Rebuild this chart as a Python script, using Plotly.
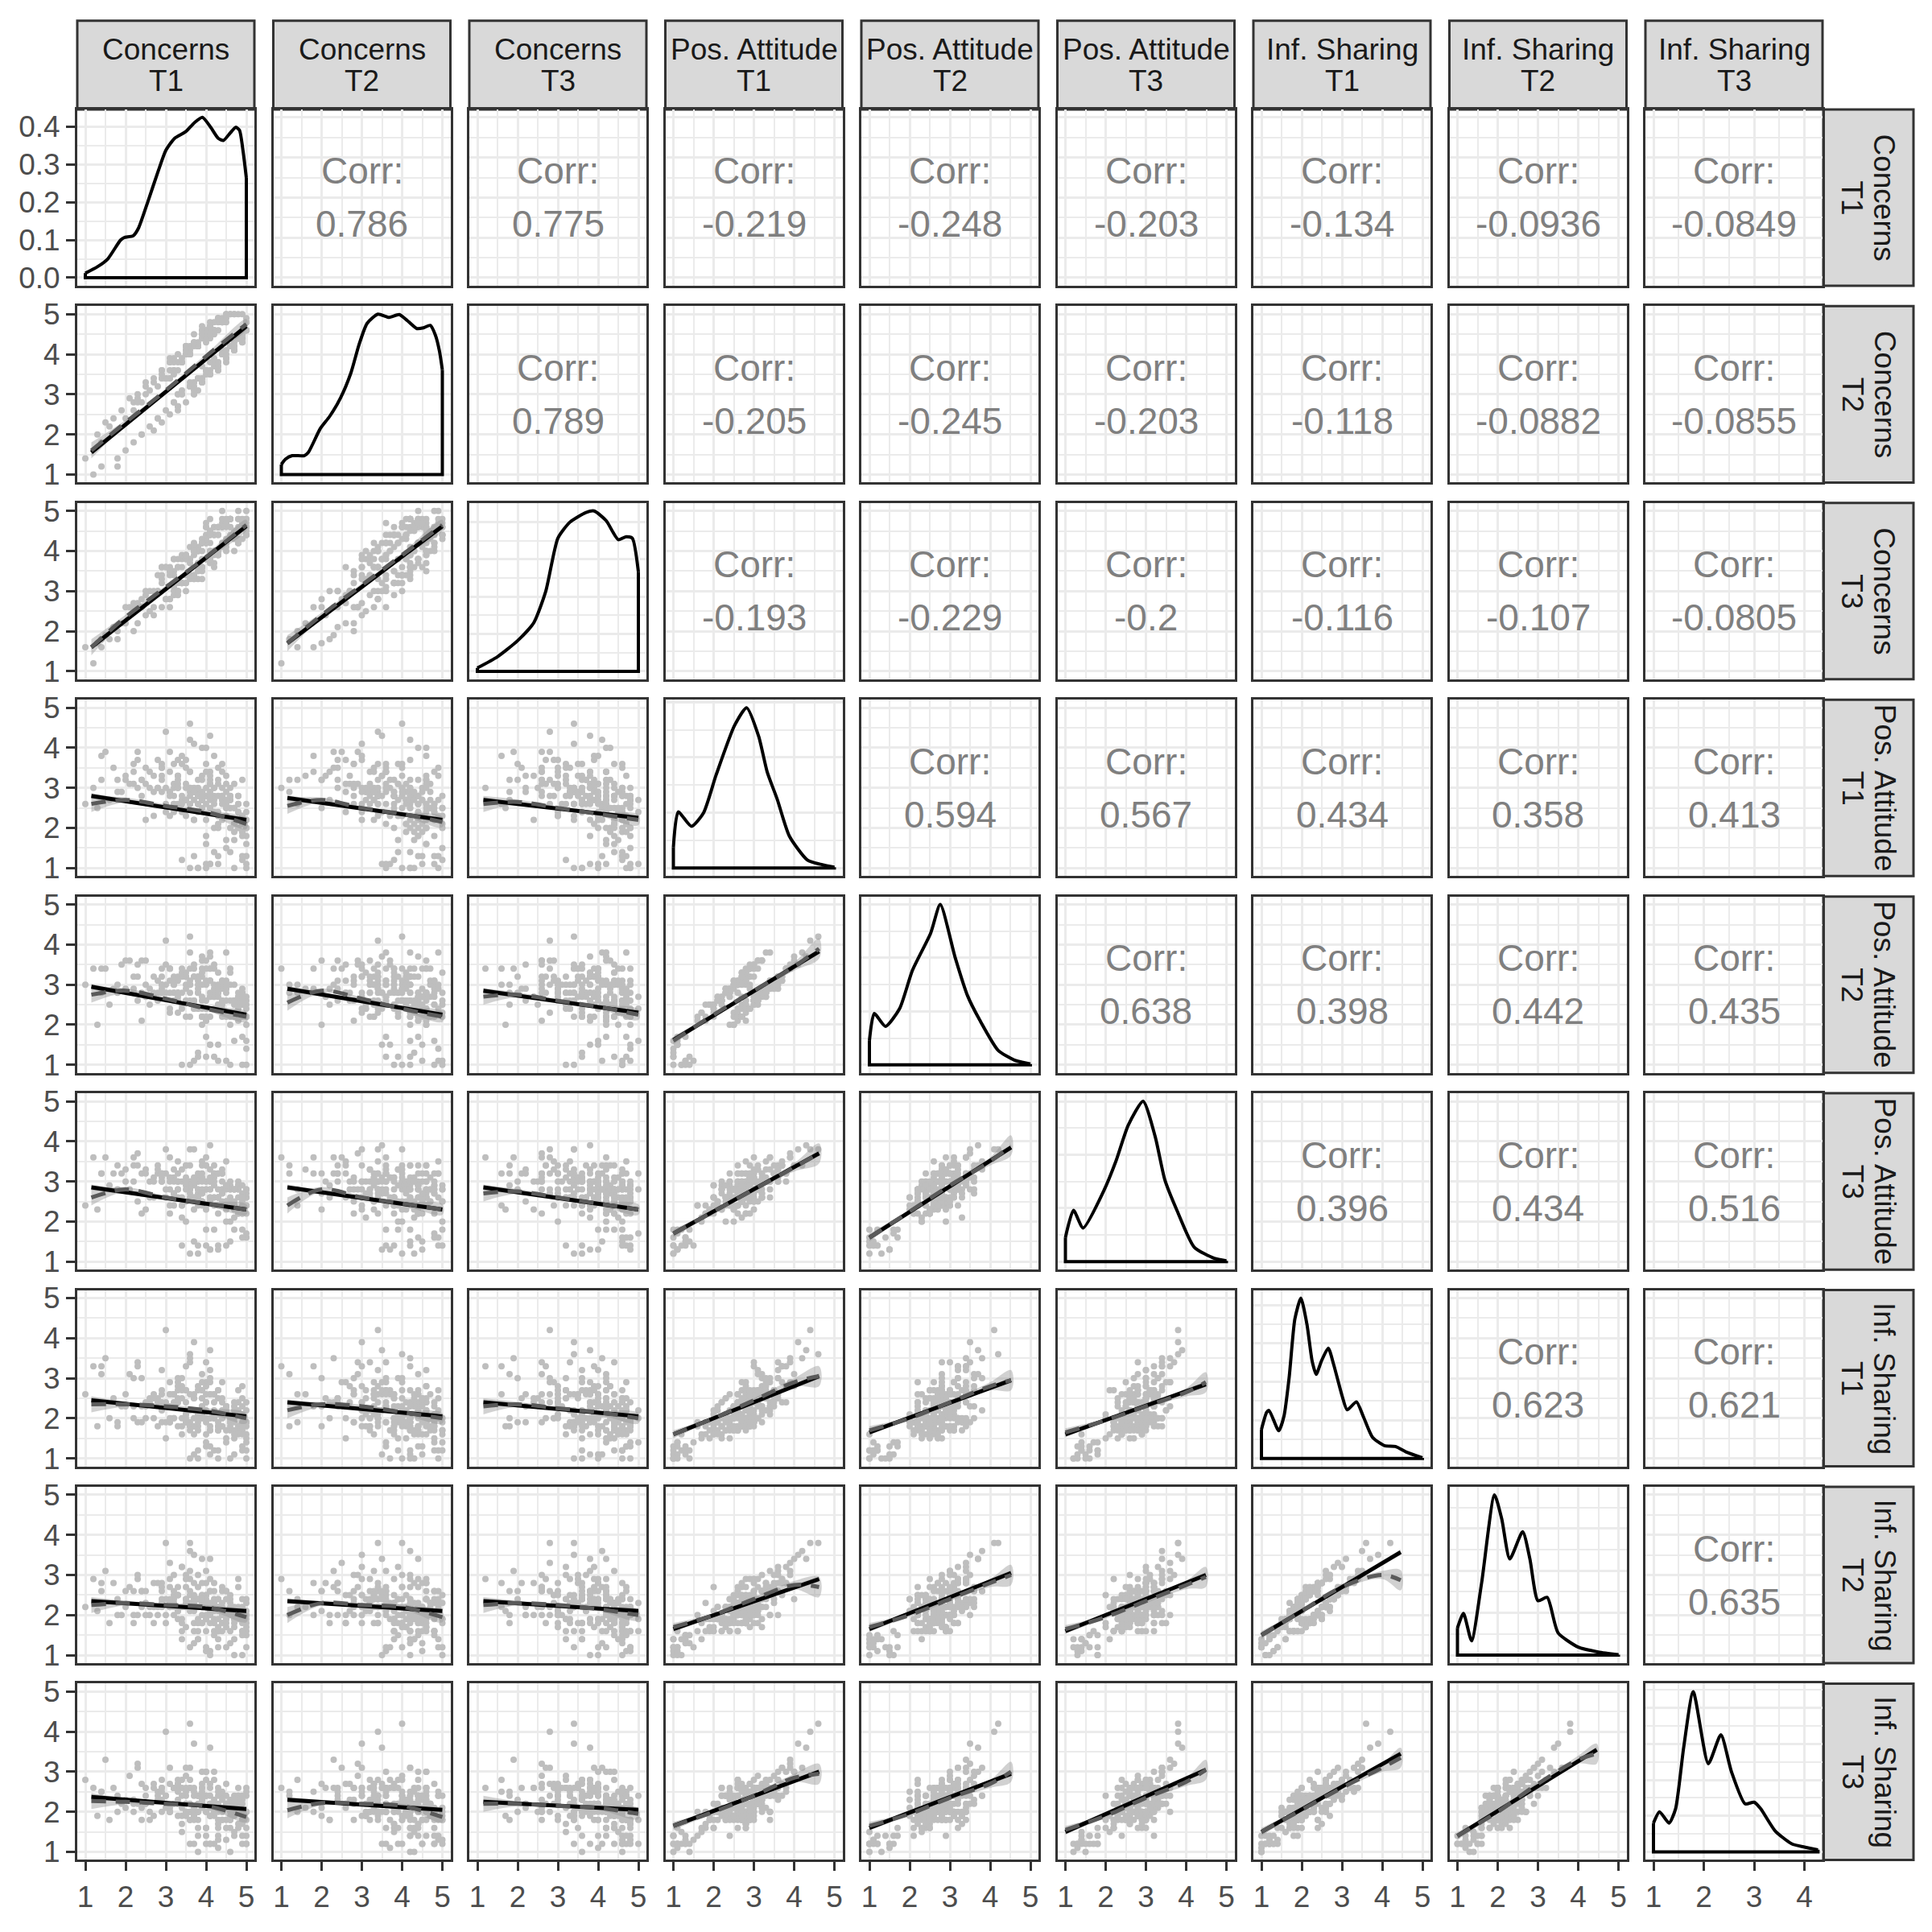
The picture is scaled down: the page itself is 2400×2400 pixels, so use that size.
import plotly.graph_objects as go

W, H = 2400, 2400
FONT = "Liberation Sans, Arial, sans-serif"

# ---------------- labels ----------------
strip_line1 = ["Concerns", "Concerns", "Concerns", "Pos. Attitude", "Pos. Attitude",
               "Pos. Attitude", "Inf. Sharing", "Inf. Sharing", "Inf. Sharing"]
strip_line2 = ["T1", "T2", "T3", "T1", "T2", "T3", "T1", "T2", "T3"]

# corr_rows[r][k] belongs to panel (row r, column r+1+k)
corr_rows = [
    ["0.786", "0.775", "-0.219", "-0.248", "-0.203", "-0.134", "-0.0936", "-0.0849"],
    ["0.789", "-0.205", "-0.245", "-0.203", "-0.118", "-0.0882", "-0.0855"],
    ["-0.193", "-0.229", "-0.2", "-0.116", "-0.107", "-0.0805"],
    ["0.594", "0.567", "0.434", "0.358", "0.413"],
    ["0.638", "0.398", "0.442", "0.435"],
    ["0.396", "0.434", "0.516"],
    ["0.623", "0.621"],
    ["0.635"],
]

# ---------------- respondent sample (estimated from the clouds) ----------------
c1 = [4.2, 3.7, 4.8, 3.1, 5.0, 2.4, 3.8, 4.3, 3.4, 4.0,
      4.6, 3.2, 1.4, 4.1, 3.8, 4.9, 2.8, 3.5, 4.0, 5.0,
      3.3, 4.4, 4.0, 2.2, 3.9, 4.6, 3.0, 4.2, 1.8, 3.6,
      4.8, 3.7, 3.2, 4.0, 2.6, 4.5, 5.0, 3.4, 4.2, 3.6,
      3.0, 4.6, 4.1, 3.8, 1.2, 4.2, 3.5, 4.8, 2.4, 3.3,
      4.4, 5.0, 3.2, 3.9, 4.0, 2.0, 4.7, 3.6, 4.2, 2.9,
      3.8, 4.3, 2.7, 4.8, 3.4, 4.0, 1.6, 4.4, 3.6, 5.0,
      3.9, 3.2, 4.6, 3.6, 2.5, 4.2, 3.8, 4.9, 3.0, 4.4,
      5.0, 3.4, 4.1, 2.2, 4.6, 3.7, 4.2, 1.0, 3.6, 4.5,
      3.2, 4.8, 3.8, 3.9, 2.8, 4.2, 3.3, 5.0, 3.6, 4.6,
      4.2, 2.3, 3.6, 4.4, 3.1, 4.0, 4.8, 3.8, 2.0, 4.7,
      3.8, 5.0, 4.3, 3.2, 4.0, 1.4, 3.7, 4.4, 3.4, 4.8,
      4.6, 2.9, 4.0, 3.8, 2.6, 4.2, 5.0, 3.5, 4.4, 3.2,
      3.4, 4.1, 2.2, 4.8, 3.8, 4.0, 3.6, 4.6, 3.1, 5.0,
      4.4, 3.9, 4.0, 2.8, 4.3, 3.4, 1.8, 4.8, 3.6, 4.0,
      5.0, 3.3, 4.6, 3.8, 2.4, 4.1, 3.6, 4.4, 3.0, 4.9,
      4.5, 3.9, 2.9, 4.7, 3.3, 4.1, 3.5, 4.9, 2.1, 3.7,
      4.3, 3.1, 4.7, 3.9, 1.5, 4.5, 3.7, 2.7, 4.1, 4.9,
      3.5, 4.3, 2.5, 4.7, 3.9, 3.1, 4.5, 1.9, 4.1, 3.3,
      4.9, 3.7, 4.3, 2.3, 3.5, 4.7, 4.1, 3.9, 2.9, 4.5,
      3.3, 4.1, 4.9, 3.7, 1.7, 4.3, 3.9, 4.5, 2.7, 3.5,
      4.7, 2.9, 3.9, 4.3, 3.1, 4.9, 3.5, 4.1, 2.3, 4.5,
      3.9, 4.5, 3.3, 2.5, 4.7, 4.1, 3.7, 4.9, 3.1, 4.3,
      4.1, 3.5, 4.7, 2.9, 4.3, 3.9, 1.3, 4.5, 3.7, 4.9]
c2 = [4.6, 3.3, 4.4, 3.6, 4.9, 2.0, 4.2, 4.8, 3.1, 3.6,
      4.2, 3.8, 1.8, 4.7, 3.4, 5.0, 3.2, 4.0, 4.3, 4.6,
      3.8, 4.1, 4.6, 2.8, 3.4, 5.0, 2.6, 3.7, 1.2, 4.2,
      4.4, 4.2, 3.9, 3.6, 2.2, 4.8, 4.6, 3.0, 4.5, 3.2,
      3.4, 4.2, 4.4, 3.1, 1.0, 3.8, 4.0, 5.0, 2.8, 3.0,
      4.0, 4.8, 3.6, 4.4, 3.5, 1.6, 4.2, 3.2, 4.8, 3.4,
      3.4, 4.6, 3.3, 4.4, 3.8, 4.5, 2.2, 4.0, 3.2, 4.8,
      4.4, 2.8, 4.2, 4.0, 3.0, 3.9, 4.2, 4.6, 3.4, 4.9,
      4.6, 3.8, 3.6, 2.6, 5.0, 3.3, 4.6, 1.4, 4.0, 4.1,
      3.6, 4.4, 4.2, 3.7, 2.4, 4.6, 3.0, 4.8, 3.2, 4.2,
      3.8, 2.8, 4.0, 4.8, 3.4, 3.6, 4.4, 4.3, 2.4, 5.0,
      4.2, 4.6, 3.8, 3.5, 4.4, 1.2, 3.2, 4.0, 3.8, 4.4,
      4.2, 3.4, 4.4, 3.4, 3.1, 4.6, 4.8, 4.0, 4.0, 2.8,
      3.0, 4.6, 1.8, 4.4, 4.2, 3.6, 4.1, 4.2, 3.4, 4.6,
      4.8, 3.4, 4.4, 2.4, 3.8, 3.9, 1.4, 4.4, 4.0, 4.6,
      4.6, 3.6, 4.2, 4.2, 2.0, 3.8, 3.3, 4.8, 3.4, 4.4,
      4.0, 4.6, 3.6, 5.0, 2.6, 4.5, 4.2, 4.4, 2.9, 3.1,
      4.9, 3.9, 4.1, 3.3, 2.3, 3.8, 4.5, 2.1, 4.7, 4.3,
      4.1, 3.6, 3.3, 4.3, 4.6, 2.5, 5.0, 2.6, 3.5, 4.0,
      4.3, 3.0, 4.9, 3.0, 4.1, 4.1, 3.5, 4.7, 3.5, 5.0,
      2.7, 4.7, 4.4, 4.3, 2.4, 3.6, 3.3, 4.9, 3.4, 4.2,
      4.1, 3.6, 4.5, 3.7, 3.8, 4.5, 2.8, 4.8, 2.9, 3.9,
      4.5, 3.9, 2.7, 3.2, 4.2, 4.7, 3.0, 4.5, 3.8, 3.7,
      3.5, 4.2, 4.1, 2.3, 4.9, 3.3, 2.0, 3.9, 4.3, 4.5]
c3 = [3.7, 4.2, 4.6, 2.6, 4.8, 2.8, 3.3, 4.6, 3.8, 4.4,
      4.8, 2.9, 1.6, 4.0, 4.1, 4.6, 3.4, 3.0, 4.6, 4.5,
      3.2, 4.8, 4.2, 2.0, 3.3, 4.6, 3.6, 4.4, 1.8, 4.1,
      4.2, 3.4, 3.8, 4.7, 3.0, 4.0, 4.8, 3.9, 3.6, 3.4,
      2.8, 4.6, 3.7, 4.0, 1.2, 4.6, 3.2, 4.3, 2.6, 3.8,
      4.6, 4.4, 3.1, 4.2, 4.2, 2.2, 4.0, 3.7, 4.6, 3.6,
      4.0, 3.9, 2.6, 4.2, 3.2, 4.6, 1.8, 4.7, 3.8, 4.4,
      3.8, 3.5, 4.8, 3.4, 2.4, 4.4, 3.6, 4.3, 2.8, 5.0,
      4.4, 3.2, 4.2, 2.7, 4.4, 4.0, 3.9, 1.6, 3.4, 4.6,
      3.8, 4.2, 3.5, 4.2, 3.0, 4.0, 3.6, 5.0, 3.3, 4.8,
      4.4, 2.2, 3.4, 4.1, 3.6, 4.2, 4.8, 3.6, 2.6, 4.4,
      3.6, 4.7, 4.4, 3.0, 3.8, 1.8, 3.9, 4.6, 3.2, 4.2,
      4.8, 3.6, 3.8, 4.0, 2.5, 4.0, 4.6, 3.4, 4.6, 3.4,
      3.6, 4.0, 2.6, 4.8, 3.7, 4.2, 3.4, 4.8, 2.8, 4.6,
      4.2, 4.0, 3.8, 3.0, 4.4, 3.2, 2.0, 5.0, 3.4, 4.3,
      4.6, 3.0, 4.8, 3.6, 2.6, 4.4, 3.8, 4.2, 3.6, 4.8,
      4.3, 3.5, 3.4, 4.4, 2.9, 4.8, 3.9, 4.6, 2.6, 3.3,
      4.6, 3.4, 4.3, 3.6, 1.9, 4.1, 4.1, 2.4, 4.5, 4.7,
      3.8, 3.9, 3.0, 4.5, 4.2, 2.8, 4.7, 2.2, 3.8, 3.6,
      4.6, 3.3, 4.6, 2.7, 3.8, 4.4, 3.8, 4.3, 3.2, 4.8,
      3.0, 4.4, 4.7, 4.0, 2.1, 3.9, 3.6, 4.7, 3.0, 3.9,
      4.4, 3.3, 4.2, 4.0, 3.5, 4.7, 3.2, 4.5, 2.6, 4.2,
      4.2, 4.2, 3.0, 2.9, 4.5, 4.4, 3.4, 4.7, 3.5, 4.0,
      3.8, 3.9, 4.4, 2.6, 4.6, 3.6, 1.7, 4.2, 4.0, 4.7]
p1 = [2.6, 3.0, 2.2, 3.4, 1.0, 3.2, 2.9, 2.4, 2.7, 3.6,
      2.0, 2.8, 3.8, 3.1, 2.6, 1.2, 3.0, 2.3, 2.8, 2.4,
      3.2, 2.7, 1.6, 3.6, 2.8, 2.5, 2.4, 3.0, 2.9, 4.2,
      2.8, 2.2, 3.1, 1.0, 3.4, 2.6, 2.0, 3.8, 2.7, 2.6,
      2.6, 1.4, 3.2, 2.9, 3.0, 2.4, 3.5, 2.0, 2.8, 3.0,
      3.0, 1.8, 2.6, 4.0, 2.8, 3.3, 1.0, 2.8, 2.4, 3.6,
      2.4, 3.2, 2.9, 2.6, 1.2, 3.0, 2.7, 2.8, 3.4, 2.2,
      2.8, 3.6, 2.5, 3.0, 2.2, 1.4, 2.6, 3.2, 4.4, 2.7,
      1.6, 2.8, 3.4, 3.1, 2.8, 2.2, 3.0, 2.6, 1.0, 2.9,
      3.0, 2.4, 2.8, 3.2, 3.7, 2.0, 2.6, 1.1, 3.0, 2.8,
      2.8, 3.0, 4.6, 2.2, 2.9, 3.4, 2.6, 1.0, 3.2, 2.5,
      3.0, 2.6, 2.8, 2.4, 1.8, 3.2, 2.9, 3.6, 2.6, 2.0,
      2.7, 3.2, 2.2, 2.8, 3.0, 3.8, 1.3, 3.0, 2.8, 2.6,
      2.4, 3.1, 3.4, 2.8, 3.2, 1.1, 2.6, 3.0, 2.8, 2.0,
      3.4, 2.8, 2.6, 3.0, 2.0, 3.6, 3.2, 2.4, 2.9, 4.0,
      2.2, 3.0, 2.7, 1.0, 3.2, 2.8, 3.4, 2.6, 3.0, 1.8,
      2.5, 3.3, 2.9, 2.1, 3.7, 1.1, 2.7, 2.3, 3.1, 2.9,
      3.5, 2.3, 1.9, 2.7, 3.9, 2.5, 1.3, 3.3, 2.9, 2.1,
      2.7, 3.1, 3.5, 1.7, 2.5, 3.9, 2.3, 2.9, 1.1, 3.3,
      1.9, 2.9, 2.3, 3.7, 2.7, 3.1, 4.3, 2.5, 3.3, 1.5,
      3.1, 2.5, 1.3, 2.9, 3.5, 2.1, 2.7, 3.3, 2.3, 3.7,
      2.1, 3.5, 2.7, 1.1, 2.9, 2.3, 3.1, 2.5, 3.9, 2.7,
      2.9, 1.7, 3.3, 3.1, 2.5, 2.7, 4.1, 1.9, 2.9, 2.3,
      3.3, 2.7, 2.1, 3.5, 1.3, 2.9, 2.5, 3.1, 2.7, 2.1]
p2 = [2.8, 2.5, 2.6, 3.1, 1.4, 3.6, 2.4, 2.9, 3.3, 3.0,
      2.3, 3.2, 3.4, 2.7, 3.1, 1.0, 2.8, 2.9, 2.4, 2.0,
      2.8, 3.1, 2.1, 3.2, 2.6, 2.3, 2.8, 3.5, 3.0, 3.8,
      2.5, 2.6, 2.8, 1.2, 2.9, 3.1, 2.2, 3.4, 2.7, 2.2,
      3.0, 1.0, 2.7, 2.4, 3.4, 2.9, 3.0, 2.5, 2.1, 3.2,
      2.6, 2.5, 3.0, 3.7, 2.4, 2.9, 1.6, 3.1, 2.8, 3.2,
      2.9, 2.8, 3.2, 2.1, 1.0, 3.4, 2.5, 2.6, 3.0, 2.7,
      3.2, 3.1, 2.0, 2.6, 2.7, 1.2, 3.0, 2.8, 4.1, 2.4,
      2.2, 2.5, 3.8, 2.8, 3.3, 2.6, 2.7, 3.0, 1.0, 2.9,
      2.6, 2.7, 3.2, 3.6, 3.1, 2.4, 2.3, 1.6, 2.8, 3.4,
      3.0, 2.6, 4.2, 2.5, 2.4, 3.1, 2.8, 1.3, 3.6, 2.2,
      2.8, 2.2, 3.3, 2.8, 2.1, 2.8, 3.2, 2.9, 2.4, 2.5,
      2.2, 2.9, 2.6, 3.2, 2.5, 3.4, 1.0, 2.6, 3.1, 3.0,
      2.8, 3.4, 2.9, 2.4, 2.8, 1.7, 3.0, 2.6, 2.3, 2.4,
      3.0, 3.3, 2.2, 2.6, 2.5, 3.2, 2.8, 2.7, 3.4, 3.6,
      2.6, 2.7, 3.0, 1.2, 2.8, 3.1, 3.0, 2.2, 3.5, 2.2,
      2.9, 2.7, 3.4, 2.6, 3.1, 1.5, 2.2, 2.8, 3.6, 2.4,
      3.0, 2.8, 2.5, 2.2, 3.4, 3.0, 1.1, 2.7, 3.4, 2.6,
      3.2, 2.5, 3.0, 2.3, 2.0, 3.4, 2.8, 3.5, 1.5, 2.8,
      2.5, 2.4, 2.9, 3.2, 3.3, 2.6, 3.7, 3.0, 2.8, 1.1,
      2.6, 3.1, 1.7, 3.4, 2.9, 2.7, 2.2, 3.8, 2.8, 3.2,
      2.6, 3.0, 2.2, 1.5, 3.4, 2.9, 2.6, 3.1, 3.5, 2.2,
      2.4, 2.3, 2.8, 3.6, 3.0, 2.2, 3.5, 2.5, 3.4, 2.8,
      2.8, 3.2, 2.6, 3.0, 1.1, 3.4, 2.0, 2.6, 3.2, 2.7]
p3 = [3.4, 2.3, 2.8, 3.0, 1.6, 2.7, 3.0, 3.2, 2.1, 3.4,
      2.9, 2.4, 3.2, 2.5, 3.2, 1.8, 3.3, 2.0, 3.0, 2.6,
      2.6, 2.7, 2.4, 3.0, 3.5, 2.0, 2.6, 3.1, 3.4, 3.4,
      2.2, 3.0, 3.3, 1.4, 2.6, 2.9, 2.6, 3.0, 3.2, 2.7,
      3.2, 1.5, 2.6, 2.7, 3.6, 2.4, 3.4, 2.9, 2.2, 2.8,
      2.5, 2.2, 3.0, 3.4, 2.8, 3.3, 1.8, 2.6, 2.9, 3.0,
      3.0, 2.6, 3.1, 2.2, 1.4, 3.0, 2.9, 3.2, 2.8, 2.7,
      3.2, 3.1, 2.6, 3.0, 2.3, 1.8, 2.4, 2.7, 3.8, 3.2,
      2.4, 2.6, 3.3, 3.4, 2.8, 2.9, 2.6, 2.4, 1.2, 2.5,
      2.7, 3.0, 2.8, 3.1, 3.4, 2.6, 3.0, 1.7, 2.8, 3.0,
      3.0, 2.5, 3.8, 2.8, 2.2, 3.6, 2.9, 1.2, 3.0, 2.8,
      3.1, 2.8, 2.6, 2.7, 2.4, 3.2, 3.0, 3.3, 2.4, 2.6,
      2.8, 3.0, 2.3, 2.8, 3.0, 3.2, 1.6, 3.1, 2.8, 2.6,
      2.4, 3.0, 3.6, 2.9, 2.6, 1.8, 3.0, 2.5, 2.8, 2.4,
      3.0, 2.7, 2.8, 3.2, 2.2, 3.3, 2.8, 2.8, 2.9, 3.4,
      2.8, 3.2, 2.5, 1.4, 3.2, 2.6, 3.0, 2.7, 2.8, 2.2,
      2.3, 3.0, 3.2, 2.5, 3.5, 1.3, 2.5, 2.9, 2.8, 2.6,
      3.2, 2.4, 2.3, 2.5, 3.6, 2.8, 1.5, 3.0, 3.1, 2.5,
      2.9, 2.8, 3.2, 2.1, 2.4, 3.6, 2.5, 3.2, 1.3, 3.0,
      2.3, 2.6, 2.6, 3.4, 3.0, 2.8, 3.9, 2.8, 3.1, 1.4,
      2.8, 2.8, 1.6, 3.1, 3.2, 2.4, 2.5, 3.5, 2.6, 3.4,
      2.4, 3.2, 2.5, 1.3, 3.1, 2.6, 2.8, 2.8, 3.7, 2.5,
      2.7, 2.0, 3.0, 3.3, 2.8, 2.5, 3.8, 2.2, 3.1, 2.6,
      3.0, 3.0, 2.4, 3.2, 1.4, 3.1, 2.3, 2.9, 3.0, 2.4]
i1 = [2.0, 2.5, 1.8, 2.3, 1.0, 3.0, 1.9, 1.8, 2.7, 3.4,
      1.7, 2.0, 3.3, 2.6, 2.1, 1.2, 1.8, 2.1, 2.4, 1.9,
      2.5, 1.8, 1.9, 3.0, 2.2, 2.0, 1.5, 2.6, 1.8, 3.5,
      2.7, 1.8, 2.0, 1.3, 2.4, 2.3, 1.9, 2.8, 2.0, 1.7,
      2.4, 1.0, 2.6, 2.1, 3.3, 2.0, 2.7, 1.6, 1.9, 2.4,
      2.0, 1.9, 2.3, 3.1, 2.2, 2.6, 1.1, 1.8, 2.0, 3.2,
      1.8, 2.1, 2.6, 1.7, 1.6, 2.4, 2.0, 2.9, 2.2, 1.5,
      2.3, 2.6, 2.0, 1.9, 2.4, 1.2, 1.7, 2.8, 4.2, 2.0,
      1.8, 2.5, 3.0, 2.0, 1.9, 1.6, 2.2, 2.6, 1.0, 2.1,
      2.4, 1.7, 2.0, 2.7, 2.4, 2.1, 1.8, 1.4, 3.4, 1.9,
      2.6, 1.9, 3.6, 1.8, 2.0, 2.9, 2.4, 1.0, 2.3, 2.0,
      2.0, 2.2, 1.7, 2.6, 1.6, 3.1, 2.0, 2.5, 1.8, 2.2,
      1.9, 2.2, 2.0, 2.8, 2.5, 2.4, 1.2, 2.1, 2.2, 2.6,
      2.0, 3.2, 2.3, 1.8, 2.7, 1.4, 2.2, 1.9, 2.6, 1.6,
      2.1, 2.0, 2.6, 2.5, 1.8, 3.0, 1.9, 2.2, 1.8, 2.8,
      2.4, 2.7, 1.8, 1.2, 2.3, 2.0, 2.6, 2.4, 1.9, 1.8,
      2.3, 2.5, 1.9, 1.7, 2.9, 1.3, 2.4, 2.1, 3.1, 1.8,
      2.7, 1.9, 1.5, 2.1, 3.5, 2.3, 1.1, 2.5, 2.0, 2.3,
      1.9, 2.7, 2.3, 1.6, 2.1, 2.9, 1.7, 2.3, 1.1, 3.0,
      1.7, 2.2, 2.5, 3.3, 1.9, 2.4, 3.7, 2.0, 2.7, 1.4,
      2.4, 1.7, 1.3, 2.6, 2.5, 1.9, 2.9, 2.2, 2.0, 3.3,
      1.9, 2.6, 2.3, 1.0, 1.9, 2.5, 2.7, 1.7, 3.4, 2.1,
      2.5, 1.5, 2.8, 2.0, 2.3, 1.8, 3.9, 1.9, 2.6, 1.7,
      2.9, 2.0, 2.2, 2.4, 1.2, 2.7, 1.8, 2.3, 2.5, 1.6]
i2 = [2.1, 2.4, 2.0, 2.7, 1.2, 2.6, 1.9, 1.6, 2.2, 3.1,
      1.6, 2.5, 2.8, 2.2, 2.7, 1.0, 2.2, 1.7, 2.0, 2.4,
      1.9, 2.2, 1.6, 2.6, 1.8, 2.5, 1.8, 2.3, 2.0, 3.6,
      2.9, 1.6, 2.4, 1.1, 2.0, 2.6, 2.1, 3.2, 1.8, 2.3,
      2.0, 1.3, 2.2, 2.4, 2.9, 1.6, 3.0, 1.9, 2.2, 2.5,
      1.8, 2.3, 2.0, 3.4, 2.5, 2.2, 1.0, 2.1, 2.4, 2.8,
      2.2, 1.7, 2.2, 2.1, 1.4, 2.8, 1.8, 2.7, 2.6, 1.9,
      1.8, 3.0, 2.1, 2.2, 2.0, 1.5, 1.6, 2.4, 3.8, 2.3,
      2.0, 1.9, 2.6, 1.8, 2.3, 1.8, 2.6, 2.2, 1.2, 1.7,
      2.6, 2.1, 1.8, 2.2, 2.8, 1.9, 2.2, 1.6, 2.9, 2.4,
      2.3, 2.0, 3.8, 1.6, 2.4, 2.5, 2.0, 1.4, 2.6, 1.8,
      2.4, 1.8, 2.1, 2.2, 1.9, 2.6, 2.4, 2.0, 1.6, 2.7,
      2.0, 2.6, 1.9, 2.4, 2.2, 2.8, 1.5, 2.4, 1.8, 2.3,
      1.8, 2.9, 2.0, 2.2, 3.0, 1.2, 2.5, 2.0, 2.2, 1.7,
      2.6, 2.2, 2.3, 2.0, 1.6, 3.2, 2.4, 1.9, 2.2, 2.4,
      2.0, 2.1, 2.2, 1.4, 2.6, 1.8, 3.1, 2.0, 2.4, 1.6,
      2.0, 2.8, 2.2, 1.9, 2.5, 1.1, 2.7, 1.8, 2.7, 2.1,
      2.4, 2.2, 1.7, 2.5, 3.1, 1.9, 1.3, 2.8, 2.3, 2.0,
      2.2, 2.4, 2.6, 1.4, 2.4, 3.3, 1.9, 2.0, 1.0, 2.7,
      1.9, 2.5, 2.2, 2.9, 2.2, 2.1, 3.4, 2.3, 2.4, 1.2,
      2.1, 2.0, 1.5, 2.3, 2.8, 2.2, 2.5, 2.6, 1.8, 2.9,
      2.2, 2.3, 2.0, 1.2, 2.3, 2.2, 2.4, 2.0, 3.0, 2.4,
      2.2, 1.8, 2.5, 2.3, 2.0, 2.1, 3.5, 1.6, 2.9, 1.9,
      2.6, 2.3, 1.9, 2.7, 1.4, 2.4, 2.1, 2.0, 2.8, 1.9]
i3 = [2.2, 2.1, 2.4, 2.0, 1.4, 2.7, 2.4, 1.4, 1.9, 3.0,
      1.6, 2.6, 2.5, 2.2, 2.0, 1.2, 2.3, 2.4, 1.6, 2.5,
      2.6, 2.0, 1.4, 2.3, 2.2, 1.8, 2.1, 2.8, 2.4, 3.1,
      2.2, 1.9, 2.6, 1.2, 1.8, 2.7, 1.8, 2.6, 2.3, 2.0,
      2.4, 1.0, 2.1, 2.2, 2.6, 2.0, 2.9, 2.0, 1.8, 2.5,
      2.3, 1.6, 2.6, 3.0, 2.0, 2.1, 1.4, 2.0, 1.9, 2.8,
      1.8, 2.2, 2.7, 1.6, 1.5, 2.4, 1.8, 2.5, 2.8, 2.0,
      2.4, 2.6, 2.1, 1.8, 2.6, 1.2, 2.0, 2.3, 4.0, 1.8,
      2.0, 1.7, 2.4, 2.2, 1.9, 2.0, 2.2, 2.8, 1.2, 2.1,
      2.2, 2.3, 1.6, 2.6, 2.4, 2.2, 1.9, 1.2, 2.6, 2.0,
      2.0, 2.2, 4.2, 2.1, 2.0, 2.4, 2.6, 1.0, 2.3, 2.4,
      2.0, 2.4, 1.7, 2.6, 2.0, 2.5, 1.8, 2.4, 2.1, 2.0,
      2.2, 2.3, 2.4, 2.4, 2.0, 3.0, 1.2, 1.9, 2.4, 2.6,
      2.4, 2.6, 2.0, 1.7, 2.4, 1.6, 2.2, 2.3, 2.0, 2.0,
      2.0, 2.4, 2.8, 2.5, 1.6, 2.8, 2.0, 2.4, 1.8, 3.0,
      2.6, 2.2, 1.8, 1.4, 2.1, 2.2, 2.6, 1.8, 2.4, 1.7,
      2.2, 2.6, 2.0, 2.1, 2.7, 1.2, 2.5, 2.0, 2.9, 1.9,
      2.5, 2.0, 1.9, 2.3, 3.3, 2.1, 1.2, 2.6, 2.2, 2.2,
      2.0, 2.6, 2.4, 1.5, 2.3, 3.1, 1.8, 2.2, 1.2, 2.8,
      1.8, 2.4, 2.4, 3.1, 2.0, 2.3, 3.6, 2.2, 2.6, 1.3,
      2.3, 1.9, 1.4, 2.5, 2.6, 2.0, 2.7, 2.4, 1.9, 3.1,
      2.0, 2.5, 2.1, 1.1, 2.1, 2.4, 2.6, 1.9, 3.2, 2.2,
      2.4, 1.6, 2.7, 2.2, 2.2, 1.9, 3.7, 1.8, 2.7, 1.8,
      2.7, 2.2, 2.0, 2.6, 1.3, 2.5, 1.9, 2.2, 2.6, 1.8]
sample = [c1, c2, c3, p1, p2, p3, i1, i2, i3]

# ---------------- diagonal densities ----------------
dens_x = [
    [1.0, 1.3, 1.56, 1.87, 1.96, 2.19, 2.32, 2.55, 2.82, 3.0, 3.22, 3.49, 3.71, 3.91, 4.12, 4.3, 4.43, 4.6, 4.74, 4.83, 4.92, 5.0],
    [1.0, 1.1, 1.27, 1.57, 1.67, 1.97, 2.2, 2.47, 2.73, 2.93, 3.13, 3.4, 3.67, 3.93, 4.13, 4.37, 4.53, 4.7, 4.83, 4.93, 5.0],
    [1.0, 1.5, 2.0, 2.4, 2.7, 3.0, 3.3, 3.7, 3.9, 4.2, 4.5, 4.7, 4.85, 5.0],
    [1.0, 1.12, 1.45, 1.75, 2.06, 2.52, 2.82, 3.12, 3.33, 3.58, 3.88, 4.33, 4.7, 5.0],
    [1.0, 1.12, 1.4, 1.75, 2.07, 2.52, 2.76, 3.13, 3.44, 3.74, 4.2, 4.6, 5.0],
    [1.0, 1.2, 1.44, 1.95, 2.26, 2.56, 2.93, 3.23, 3.47, 3.77, 4.2, 4.7, 5.0],
    [1.0, 1.13, 1.19, 1.43, 1.56, 1.69, 1.83, 1.98, 2.13, 2.26, 2.36, 2.49, 2.66, 2.79, 3.0, 3.13, 3.36, 3.53, 3.76, 4.06, 4.33, 4.59, 5.0],
    [1.0, 1.15, 1.35, 1.6, 1.92, 2.1, 2.3, 2.62, 2.8, 3.0, 3.23, 3.5, 4.0, 4.5, 5.0],
    [1.0, 1.12, 1.31, 1.44, 1.6, 1.79, 2.09, 2.34, 2.55, 2.82, 3.0, 3.13, 3.42, 3.75, 4.0, 4.27],
]
dens_y = [
    [0.012, 0.029, 0.05, 0.099, 0.106, 0.111, 0.131, 0.2, 0.285, 0.337, 0.369, 0.386, 0.41, 0.424, 0.397, 0.369, 0.363, 0.383, 0.398, 0.39, 0.334, 0.264],
    [0.025, 0.038, 0.047, 0.047, 0.055, 0.115, 0.145, 0.191, 0.254, 0.324, 0.377, 0.4, 0.392, 0.399, 0.384, 0.364, 0.366, 0.372, 0.347, 0.307, 0.261],
    [0.009, 0.039, 0.082, 0.13, 0.215, 0.357, 0.4, 0.426, 0.43, 0.404, 0.353, 0.361, 0.357, 0.267],
    [0.075, 0.203, 0.151, 0.2, 0.336, 0.516, 0.58, 0.476, 0.348, 0.249, 0.116, 0.029, 0.012, 0.003],
    [0.09, 0.192, 0.144, 0.21, 0.354, 0.492, 0.6, 0.402, 0.258, 0.168, 0.054, 0.018, 0.003],
    [0.09, 0.192, 0.126, 0.264, 0.378, 0.51, 0.6, 0.468, 0.306, 0.192, 0.054, 0.012, 0.003],
    [0.15, 0.24, 0.25, 0.144, 0.22, 0.425, 0.726, 0.836, 0.70, 0.507, 0.438, 0.507, 0.575, 0.493, 0.329, 0.253, 0.295, 0.219, 0.11, 0.066, 0.062, 0.034, 0.003],
    [0.129, 0.198, 0.068, 0.342, 0.76, 0.646, 0.456, 0.585, 0.456, 0.258, 0.274, 0.106, 0.038, 0.015, 0.002],
    [0.16, 0.223, 0.16, 0.24, 0.579, 0.89, 0.49, 0.65, 0.445, 0.267, 0.276, 0.24, 0.116, 0.045, 0.027, 0.012],
]
dens_grid = [0.1, 0.1, 0.1, 0.2, 0.2, 0.2, 0.2, 0.2, 0.2]

# ---------------- fitted lines ----------------
fit_x = [[1.15, 2, 3, 4, 5.0], [1.15, 2, 3, 4, 5.0], [1.15, 2, 3, 4, 5.0],
         [1.0, 2, 3, 4, 4.62], [1.0, 2, 3, 4, 4.52], [1.0, 2, 3, 4, 4.49],
         [1.0, 2, 3, 4, 4.46], [1.0, 2, 3, 4, 4.46]]
lm_start = [[], [1.55], [1.6, 1.7], [2.8, 2.75, 2.7], [2.95, 2.9, 2.85, 1.62],
            [2.85, 2.85, 2.85, 1.7, 1.6], [2.45, 2.4, 2.4, 1.6, 1.65, 1.6],
            [2.35, 2.35, 2.35, 1.65, 1.65, 1.6, 1.5],
            [2.37, 2.3, 2.25, 1.65, 1.6, 1.5, 1.5, 1.4]]
lm_end = [[], [4.7], [4.62, 4.62], [2.2, 2.2, 2.25], [2.25, 2.25, 2.3, 3.83],
          [2.3, 2.3, 2.3, 3.7, 3.85], [2.05, 2.05, 2.05, 3.05, 2.95, 2.85],
          [2.1, 2.1, 2.1, 2.9, 3.05, 3.0, 3.57],
          [2.07, 2.05, 2.05, 3.0, 2.95, 3.05, 3.45, 3.55]]
loess_y = [
    [],
    [[1.6, 2.3, 3.1, 3.95, 4.75]],
    [[1.6, 2.35, 3.1, 3.85, 4.65], [1.7, 2.4, 3.15, 3.9, 4.65]],
    [[2.6, 2.7, 2.55, 2.4, 2.1], [2.55, 2.7, 2.5, 2.35, 2.15], [2.6, 2.65, 2.5, 2.35, 2.2]],
    [[2.75, 2.85, 2.65, 2.4, 2.2], [2.55, 2.85, 2.65, 2.4, 2.2], [2.7, 2.75, 2.6, 2.45, 2.25],
     [1.6, 2.25, 2.85, 3.45, 3.9]],
    [[2.6, 2.8, 2.6, 2.45, 2.3], [2.4, 2.8, 2.6, 2.45, 2.3], [2.7, 2.75, 2.6, 2.45, 2.3],
     [1.7, 2.25, 2.8, 3.35, 3.7], [1.6, 2.25, 2.9, 3.5, 3.9]],
    [[2.35, 2.35, 2.3, 2.2, 2.0], [2.2, 2.35, 2.3, 2.15, 2.0], [2.3, 2.35, 2.25, 2.15, 2.0],
     [1.6, 2.0, 2.45, 2.9, 3.05], [1.7, 2.0, 2.4, 2.8, 2.95], [1.65, 1.95, 2.3, 2.65, 2.9]],
    [[2.25, 2.3, 2.25, 2.2, 1.95], [2.0, 2.3, 2.25, 2.2, 1.95], [2.25, 2.3, 2.25, 2.15, 2.0],
     [1.7, 2.0, 2.4, 2.75, 2.7], [1.7, 2.0, 2.4, 2.8, 3.0], [1.65, 1.95, 2.35, 2.75, 2.95],
     [1.5, 2.1, 2.7, 3.0, 2.87]],
    [[2.27, 2.25, 2.2, 2.15, 1.87], [2.04, 2.22, 2.2, 2.15, 1.87], [2.2, 2.2, 2.15, 2.1, 1.95],
     [1.65, 2.0, 2.4, 2.85, 2.95], [1.65, 1.95, 2.35, 2.7, 3.0], [1.55, 1.9, 2.35, 2.75, 3.05],
     [1.5, 2.05, 2.6, 3.1, 3.35], [1.4, 2.0, 2.7, 3.3, 3.45]],
]
loess_band_conc = [0.2, 0.06, 0.04, 0.05, 0.13]
loess_band_other = [0.1, 0.04, 0.05, 0.1, 0.25]

x_ranges = [[0.8, 5.2]] * 8 + [[0.84, 4.36]]
y_range = [0.8, 5.2]
bottom_ticks = [[1, 2, 3, 4, 5]] * 8 + [[1, 2, 3, 4]]

# ---------------- layout geometry ----------------
PW, PH = 220, 221
COL0, COLSTEP = 96, 243.5
ROW0, ROWSTEP = 127, 246.6
GRID = "#EBEBEB"
BORDER = "#333333"
RIB = "rgba(153,153,153,0.45)"


def names(k):
    s = "" if k == 1 else str(k)
    return "xaxis" + s, "yaxis" + s, "x" + s, "y" + s


fig = go.Figure()
layout = {}
annotations = []
shapes = []

for r in range(9):
    for c in range(9):
        k = r * 9 + c + 1
        xa, ya, xr, yr = names(k)
        x0 = COL0 + c * COLSTEP
        y0 = ROW0 + r * ROWSTEP
        xdom = [x0 / W, (x0 + PW) / W]
        ydom = [1 - (y0 + PH) / H, 1 - y0 / H]

        base = dict(showline=True, mirror=True, linecolor=BORDER, linewidth=3,
                    showgrid=True, gridcolor=GRID, gridwidth=3.2, zeroline=False,
                    ticks="", showticklabels=False, fixedrange=True,
                    tickfont=dict(family=FONT, size=37, color="#4D4D4D"),
                    ticklen=11, tickwidth=3.2, tickcolor=BORDER)
        xaxis = dict(base, domain=xdom, anchor=yr, range=x_ranges[c], tick0=1, dtick=1,
                     minor=dict(dtick=0.5, tick0=1, showgrid=True, gridcolor=GRID, gridwidth=1.8))
        if r == 8:
            xaxis.update(ticks="outside", showticklabels=True, tickmode="array",
                         tickvals=bottom_ticks[c], ticktext=[str(v) for v in bottom_ticks[c]])
        if r == c:
            M = max(dens_y[c])
            g = dens_grid[c]
            yaxis = dict(base, domain=ydom, anchor=xr, range=[-0.05 * M, 1.05 * M], tick0=0, dtick=g,
                         minor=dict(dtick=g / 2, tick0=0, showgrid=True, gridcolor=GRID, gridwidth=1.8))
        else:
            yaxis = dict(base, domain=ydom, anchor=xr, range=y_range, tick0=1, dtick=1,
                         minor=dict(dtick=0.5, tick0=1, showgrid=True, gridcolor=GRID, gridwidth=1.8))
        if c == 0:
            if r == 0:
                yaxis.update(ticks="outside", showticklabels=True, tickmode="array",
                             tickvals=[0, 0.1, 0.2, 0.3, 0.4],
                             ticktext=["0.0", "0.1", "0.2", "0.3", "0.4"])
            else:
                yaxis.update(ticks="outside", showticklabels=True, tickmode="array",
                             tickvals=[1, 2, 3, 4, 5], ticktext=["1", "2", "3", "4", "5"])
        layout[xa] = xaxis
        layout[ya] = yaxis

        if r == c:
            dx, dy = dens_x[c], dens_y[c]
            fig.add_trace(go.Scatter(x=dx, y=dy, mode="lines", xaxis=xr, yaxis=yr,
                                     line=dict(color="black", width=4, shape="spline", smoothing=0.6),
                                     hoverinfo="skip"))
            fig.add_trace(go.Scatter(x=[dx[-1], dx[-1], dx[0], dx[0]], y=[dy[-1], 0, 0, dy[0]],
                                     mode="lines", xaxis=xr, yaxis=yr,
                                     line=dict(color="black", width=4), hoverinfo="skip"))
        elif r > c:
            fig.add_trace(go.Scatter(x=sample[c], y=sample[r], mode="markers", xaxis=xr, yaxis=yr,
                                     marker=dict(size=8, color="#BEBEBE", line=dict(width=0)),
                                     hoverinfo="skip"))
            lx = fit_x[c]
            ly = loess_y[r][c]
            band = loess_band_conc if c < 3 else loess_band_other
            up = [v + b for v, b in zip(ly, band)]
            lo = [v - b for v, b in zip(ly, band)]
            fig.add_trace(go.Scatter(x=lx + lx[::-1], y=up + lo[::-1], mode="lines", fill="toself",
                                     fillcolor=RIB, line=dict(width=0, shape="spline"),
                                     xaxis=xr, yaxis=yr, hoverinfo="skip"))
            xs, xe = lx[0], lx[-1]
            ys, ye = lm_start[r][c], lm_end[r][c]
            xm, ym = (xs + xe) / 2, (ys + ye) / 2
            fig.add_trace(go.Scatter(x=[xs, xm, xe, xe, xm, xs],
                                     y=[ys - 0.07, ym - 0.025, ye - 0.07, ye + 0.07, ym + 0.025, ys + 0.07],
                                     mode="lines", fill="toself", fillcolor=RIB, line=dict(width=0),
                                     xaxis=xr, yaxis=yr, hoverinfo="skip"))
            fig.add_trace(go.Scatter(x=[xs, xe], y=[ys, ye], mode="lines", xaxis=xr, yaxis=yr,
                                     line=dict(color="black", width=5), hoverinfo="skip"))
            fig.add_trace(go.Scatter(x=lx, y=ly, mode="lines", xaxis=xr, yaxis=yr,
                                     line=dict(color="#5A5A5A", width=5, dash="18px,12px", shape="spline"),
                                     hoverinfo="skip"))
        else:
            # empty placeholder so the text panel (frame + grid) gets drawn
            fig.add_trace(go.Scatter(x=[None], y=[None], mode="markers", xaxis=xr, yaxis=yr,
                                     hoverinfo="skip"))
            txt = corr_rows[r][c - r - 1]
            dref_x = xr + " domain"
            dref_y = yr + " domain"
            annotations.append(dict(text="Corr:", x=0.5, y=0.5, xref=dref_x, yref=dref_y,
                                    xanchor="center", yanchor="middle", yshift=33, showarrow=False,
                                    font=dict(family=FONT, size=46, color="#7F7F7F")))
            annotations.append(dict(text=txt, x=0.5, y=0.5, xref=dref_x, yref=dref_y,
                                    xanchor="center", yanchor="middle", yshift=-33, showarrow=False,
                                    font=dict(family=FONT, size=46, color="#7F7F7F")))

# ---------------- strips ----------------
STRIP_TOP, STRIP_BOT = 16, 127
RSTRIP_L, RSTRIP_R = 2265, 2377
for i in range(9):
    x0 = COL0 + i * COLSTEP
    shapes.append(dict(type="rect", xref="paper", yref="paper",
                       x0=x0 / W, x1=(x0 + PW) / W, y0=1 - STRIP_BOT / H, y1=1 - STRIP_TOP / H,
                       fillcolor="#D9D9D9", line=dict(color=BORDER, width=3), layer="below"))
    cx = (x0 + PW / 2) / W
    cy = (STRIP_TOP + STRIP_BOT) / 2
    annotations.append(dict(text=strip_line1[i], x=cx, y=1 - (cy - 20) / H, xref="paper", yref="paper",
                            xanchor="center", yanchor="middle", showarrow=False,
                            font=dict(family=FONT, size=37, color="#1A1A1A")))
    annotations.append(dict(text=strip_line2[i], x=cx, y=1 - (cy + 20) / H, xref="paper", yref="paper",
                            xanchor="center", yanchor="middle", showarrow=False,
                            font=dict(family=FONT, size=37, color="#1A1A1A")))

    y0 = ROW0 + i * ROWSTEP
    shapes.append(dict(type="rect", xref="paper", yref="paper",
                       x0=RSTRIP_L / W, x1=RSTRIP_R / W, y0=1 - (y0 + PH) / H, y1=1 - y0 / H,
                       fillcolor="#D9D9D9", line=dict(color=BORDER, width=3), layer="below"))
    mx = (RSTRIP_L + RSTRIP_R) / 2
    my = 1 - (y0 + PH / 2) / H
    annotations.append(dict(text=strip_line1[i], x=(mx + 20) / W, y=my, xref="paper", yref="paper",
                            xanchor="center", yanchor="middle", showarrow=False, textangle=90,
                            font=dict(family=FONT, size=37, color="#1A1A1A")))
    annotations.append(dict(text=strip_line2[i], x=(mx - 20) / W, y=my, xref="paper", yref="paper",
                            xanchor="center", yanchor="middle", showarrow=False, textangle=90,
                            font=dict(family=FONT, size=37, color="#1A1A1A")))

fig.update_layout(width=W, height=H, margin=dict(l=0, r=0, t=0, b=0),
                  paper_bgcolor="white", plot_bgcolor="white", showlegend=False,
                  hovermode=False, annotations=annotations, shapes=shapes, **layout)
fig.write_html("out.html")
